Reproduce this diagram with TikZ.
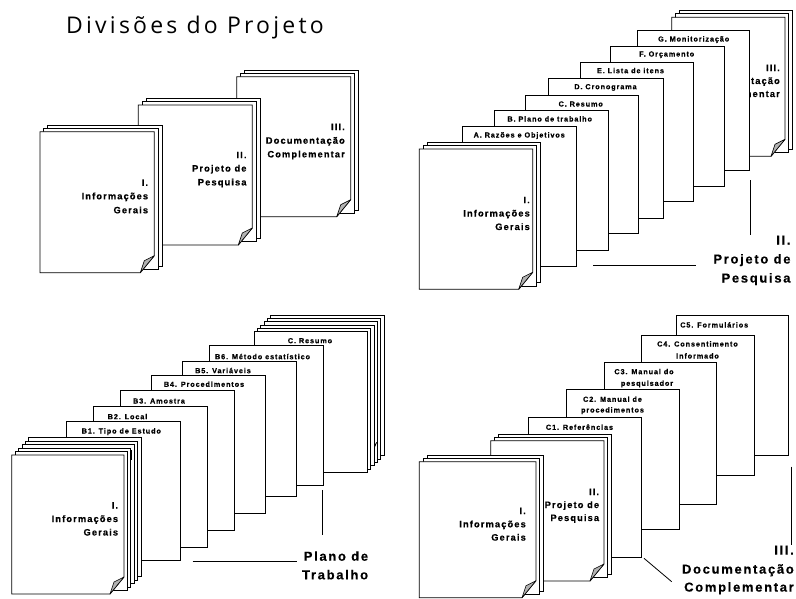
\documentclass[tikz,border=0pt]{standalone}
\usepackage{fontspec}
\setmainfont{Liberation Sans}
\newfontfamily\titlefont[LetterSpace=14]{Open Sans}
\newfontfamily\lblfont[LetterSpace=12,FakeBold=0.4]{Liberation Sans Bold}
\newfontfamily\bigfont[LetterSpace=13,FakeBold=0.3]{Liberation Sans Bold}
\tikzset{
  page/.style={draw=black, fill=white, line width=0.8pt},
  fold/.style={draw=black, fill=black!30, line width=0.6pt, line join=round},
  tab/.style={font=\lblfont\fontsize{7.3}{8}\selectfont, inner sep=0pt, anchor=base},
  doct/.style={font=\lblfont\fontsize{9.3}{10}\selectfont, inner sep=0pt, anchor=base east},
  bigt/.style={font=\bigfont\fontsize{13}{14}\selectfont, inner sep=0pt, anchor=base east},
  ind/.style={draw=black, line width=0.8pt},
}
\newcommand{\backpg}[7]{%
  \foreach \k in {#5,...,1}{
    \draw[page] ({#1+\k*#6},{#2-\k*#7}) rectangle ++(#3,#4);
  }}
\newcommand{\curlpg}[4]{%
  \draw[page] (#1,#2) -- ++(#3,0) -- ++(0,{#4-17}) -- ++(-14,17) -- ++({-#3+14},0) -- cycle;
  \draw[fold] ({#1+#3},{#2+#4-17}) -- ({#1+#3-10},{#2+#4-12}) -- ({#1+#3-14},{#2+#4}) -- cycle;}
\begin{document}
\begin{tikzpicture}[x=1pt,y=-1pt]
\fill[white] (0,0) rectangle (796,598);
\useasboundingbox (0,0) rectangle (796,598);

% ---------- Quadrant 1 ----------
\node[font=\titlefont\fontsize{23}{26}\selectfont, anchor=base, inner sep=0pt] (title) at (195,33.3) {Divisões do Projeto};

\backpg{236.7}{76.7}{114}{140}{2}{3.8}{3.4}
\curlpg{236.7}{76.7}{114}{140}
\node[doct] (q1c1) at (345,130) {III.};
\node[doct] (q1c2) at (345,143.7) {Documentação};
\node[doct] (q1c3) at (345,157.4) {Complementar};

\backpg{138.3}{105}{114}{140}{2}{3.8}{3.4}
\curlpg{138.3}{105}{114}{140}
\node[doct] (q1b1) at (246.7,158.2) {II.};
\node[doct] (q1b2) at (246.7,171.6) {Projeto de};
\node[doct] (q1b3) at (246.7,185.4) {Pesquisa};

\backpg{40}{131.7}{114.3}{141}{2}{3.8}{3.4}
\curlpg{40}{131.7}{114.3}{141}
\node[doct] (q1a1) at (148.3,185.9) {I.};
\node[doct] (q1a2) at (148.3,199.3) {Informações};
\node[doct] (q1a3) at (148.3,213.3) {Gerais};

% ---------- Quadrant 2 ----------
\backpg{671.7}{17.3}{113.3}{139}{2}{3.8}{3.5}
\curlpg{671.7}{17.3}{113.3}{139}
\node[doct] (q2c1) at (780,71) {III.};
\node[doct] (q2c2) at (780,84) {Documentação};
\node[doct] (q2c3) at (780,97) {Complementar};

\draw[page] (637.7,30.7) rectangle ++(111.5,140);
\node[tab] (tG) at (693.7,41.5) {G. Monitorização};
\draw[page] (610.7,46.7) rectangle ++(113.6,140);
\node[tab] (tF) at (666.7,56.5) {F. Orçamento};
\draw[page] (580,62.7) rectangle ++(113,139);
\node[tab] (tE) at (630.5,73.2) {E. Lista de itens};
\draw[page] (548.3,78.3) rectangle ++(115,140);
\node[tab] (tD) at (605.5,89.2) {D. Cronograma};
\draw[page] (525,95) rectangle ++(113.3,138.3);
\node[tab] (tC) at (580.7,106.5) {C. Resumo};
\draw[page] (494.3,110) rectangle ++(114,140);
\node[tab] (tB) at (549.7,121.5) {B. Plano de trabalho};
\draw[page] (462.7,126) rectangle ++(114,140.7);
\node[tab] (tA) at (519.2,137.5) {A. Razões e Objetivos};

\backpg{419.3}{149}{113.4}{140.3}{2}{3.8}{3.4}
\curlpg{419.3}{149}{113.4}{140.3}
\node[doct] (q2a1) at (530,203.2) {I.};
\node[doct] (q2a2) at (530,216.5) {Informações};
\node[doct] (q2a3) at (530,230) {Gerais};

\draw[ind] (750,180) -- (750,235);
\draw[ind] (593.3,265.7) -- (696,265.7);
\node[bigt] (q2t1) at (790.7,244.5) {II.};
\node[bigt] (q2t2) at (790.7,263.5) {Projeto de};
\node[bigt] (q2t3) at (790.7,282.5) {Pesquisa};

% ---------- Quadrant 3 ----------
\backpg{254}{331.7}{113.3}{140.6}{5}{3.35}{3.35}
\draw[page] (254,331.7) rectangle ++(113.3,140.6);
\draw[line width=0.9pt] (376.6,442.3) -- (374.6,446.7);
\node[tab] (tCR) at (310,343.2) {C. Resumo};
\draw[page] (209.3,345.7) rectangle ++(114,139.3);
\node[tab] (tB6) at (262.5,359.2) {B6. Método estatístico};
\draw[page] (182.7,361) rectangle ++(113.3,135.7);
\node[tab] (tB5) at (223,373.2) {B5. Variáveis};
\draw[page] (151.7,375) rectangle ++(113.3,138.3);
\node[tab] (tB4) at (204,386.8) {B4. Procedimentos};
\draw[page] (120.7,390.7) rectangle ++(113.6,139.3);
\node[tab] (tB3) at (159,403.5) {B3. Amostra};
\draw[page] (93.3,406.7) rectangle ++(114,140.6);
\node[tab] (tB2) at (127.5,419.2) {B2. Local};
\draw[page] (66,421.7) rectangle ++(114,138.3);
\node[tab] (tB1) at (121.3,433.5) {B1. Tipo de Estudo};

\backpg{11.7}{455}{112.3}{139}{5}{3.4}{3.5}
\draw[line width=1pt] (131.7,450) -- (131.7,460);
\curlpg{11.7}{455}{112.3}{139}
\node[doct] (q3a1) at (118.3,508.5) {I.};
\node[doct] (q3a2) at (118.3,522) {Informações};
\node[doct] (q3a3) at (118.3,535.5) {Gerais};

\draw[ind] (322.7,490) -- (322.7,535);
\draw[ind] (192.7,561.7) -- (296.7,561.7);
\node[bigt] (q3t1) at (368.3,560.7) {Plano de};
\node[bigt] (q3t2) at (368.3,579.3) {Trabalho};

% ---------- Quadrant 4 ----------
\draw[page] (676,315) rectangle ++(112.3,140);
\node[tab] (tC5) at (714.2,327.5) {C5. Formulários};
\draw[page] (641.7,335) rectangle ++(112.3,140.7);
\node[tab] (tC4a) at (697.5,346.5) {C4. Consentimento};
\node[tab] (tC4b) at (697.5,358.5) {Informado};
\draw[page] (604,362.7) rectangle ++(112.7,141.3);
\node[tab] (tC3a) at (644,374.2) {C3. Manual do};
\node[tab] (tC3b) at (647,385.8) {pesquisador};
\draw[page] (566,389.3) rectangle ++(113.3,140);
\node[tab] (tC2a) at (612.5,401.8) {C2. Manual de};
\node[tab] (tC2b) at (612.5,412.5) {procedimentos};
\draw[page] (528.3,417.3) rectangle ++(113.4,140);
\node[tab] (tC1) at (579.5,429.8) {C1. Referências};

\backpg{490.7}{440.7}{113.3}{140.3}{2}{3.8}{3.4}
\curlpg{490.7}{440.7}{113.3}{140.3}
\node[doct] (q4b1) at (599.3,495) {II.};
\node[doct] (q4b2) at (599.3,508) {Projeto de};
\node[doct] (q4b3) at (599.3,521) {Pesquisa};

\backpg{419.3}{461.7}{116.7}{136}{2}{3.8}{3.4}
\curlpg{419.3}{461.7}{116.7}{136}
\node[doct] (q4a1) at (526,514) {I.};
\node[doct] (q4a2) at (526,527.3) {Informações};
\node[doct] (q4a3) at (526,540.6) {Gerais};

\draw[ind] (791.7,466.7) -- (791.7,545);
\draw[ind] (644,558.3) -- (671.7,581.7);
\node[bigt] (q4t1) at (794,554.6) {III.};
\node[bigt] (q4t2) at (794,573.6) {Documentação};
\node[bigt] (q4t3) at (794,591.6) {Complementar};
\end{tikzpicture}
\end{document}
